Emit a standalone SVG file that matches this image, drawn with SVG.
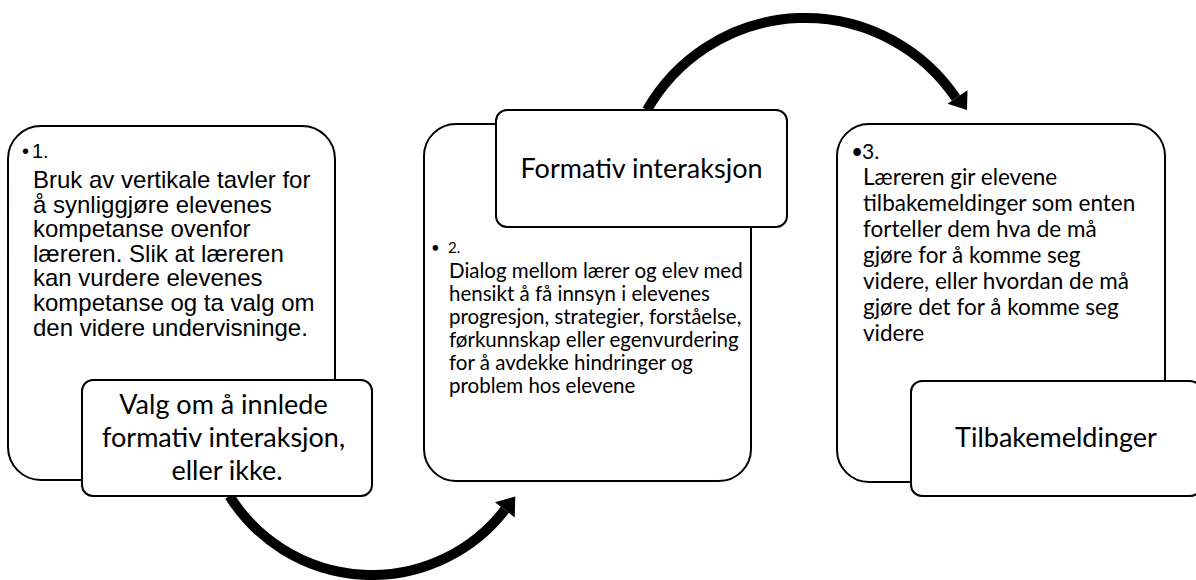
<svg xmlns="http://www.w3.org/2000/svg" width="1196" height="580" viewBox="0 0 1196 580">
<style>
.bg{fill:#fff}
.box{fill:#fff;stroke:#000;stroke-width:2}
.arc{fill:none;stroke:#000;stroke-width:10}
.head{fill:#000}
.ar{font-family:"Liberation Sans",Arial,sans-serif;fill:#000}
.ca{font-family:Lato,"Open Sans",sans-serif;fill:#000}
.lab{font-family:Lato,"Open Sans",sans-serif;font-size:27px;fill:#000;text-anchor:middle}
</style>
<rect class="bg" x="0" y="0" width="1196" height="580"/>
<g id="connectors">
  <path class="arc" d="M 229.5 496 A 168 168 0 0 0 504.8 509.9"/>
  <polygon class="head" points="495,502.2 514.7,517.6 515.3,496.5"/>
  <path class="arc" d="M 647 110 A 182 182 0 0 1 956 98"/>
  <polygon class="head" points="947.5,103.7 967.5,90.3 967,110"/>
</g>
<g id="step1">
  <rect class="box" x="8" y="126" width="327" height="354" rx="33" ry="33"/>
  <text class="ar" x="22" y="158" font-size="20">•</text>
  <text class="ar" x="32" y="158" font-size="20">1.</text>
  <text class="ar" font-size="24">
    <tspan x="33" y="188">Bruk av vertikale tavler for</tspan>
    <tspan x="33" y="212.6">å synliggjøre elevenes</tspan>
    <tspan x="33" y="237.2">kompetanse ovenfor</tspan>
    <tspan x="33" y="261.8">læreren. Slik at læreren</tspan>
    <tspan x="33" y="286.4">kan vurdere elevenes</tspan>
    <tspan x="33" y="311">kompetanse og ta valg om</tspan>
    <tspan x="33" y="335.6">den videre undervisninge.</tspan>
  </text>
</g>
<g id="label1">
  <rect class="box" x="82" y="380" width="290" height="116" rx="11" ry="11"/>
  <text class="lab">
    <tspan x="227" y="414">Valg om å innlede</tspan>
    <tspan x="227" y="447">formativ interaksjon,</tspan>
    <tspan x="227" y="480">eller ikke.</tspan>
  </text>
</g>
<g id="step2">
  <rect class="box" x="424" y="124" width="327" height="357" rx="32" ry="32"/>
  <text class="ca" x="431" y="253" font-size="15">•</text>
  <text class="ca" x="448" y="253" font-size="15">2.</text>
  <text class="ca" font-size="20.5">
    <tspan x="449" y="278">Dialog mellom lærer og elev med</tspan>
    <tspan x="449" y="301">hensikt å få innsyn i elevenes</tspan>
    <tspan x="449" y="324">progresjon, strategier, forståelse,</tspan>
    <tspan x="449" y="347">førkunnskap eller egenvurdering</tspan>
    <tspan x="449" y="370">for å avdekke hindringer og</tspan>
    <tspan x="449" y="393">problem hos elevene</tspan>
  </text>
</g>
<g id="label2">
  <rect class="box" x="496" y="110" width="291" height="117" rx="11" ry="11"/>
  <text class="lab" x="641.5" y="178">Formativ interaksjon</text>
</g>
<g id="step3">
  <rect class="box" x="837" y="124" width="328" height="358" rx="32" ry="32"/>
  <text class="ca" x="851" y="159" font-size="21">•</text>
  <text class="ca" x="862" y="159" font-size="21">3.</text>
  <text class="ca" font-size="22.5">
    <tspan x="863" y="185">Læreren gir elevene</tspan>
    <tspan x="863" y="211">tilbakemeldinger som enten</tspan>
    <tspan x="863" y="237">forteller dem hva de må</tspan>
    <tspan x="863" y="263">gjøre for å komme seg</tspan>
    <tspan x="863" y="289">videre, eller hvordan de må</tspan>
    <tspan x="863" y="315">gjøre det for å komme seg</tspan>
    <tspan x="863" y="341">videre</tspan>
  </text>
</g>
<g id="label3">
  <rect class="box" x="911" y="381" width="290" height="115" rx="11" ry="11"/>
  <text class="lab" x="1056" y="447">Tilbakemeldinger</text>
</g>
</svg>
